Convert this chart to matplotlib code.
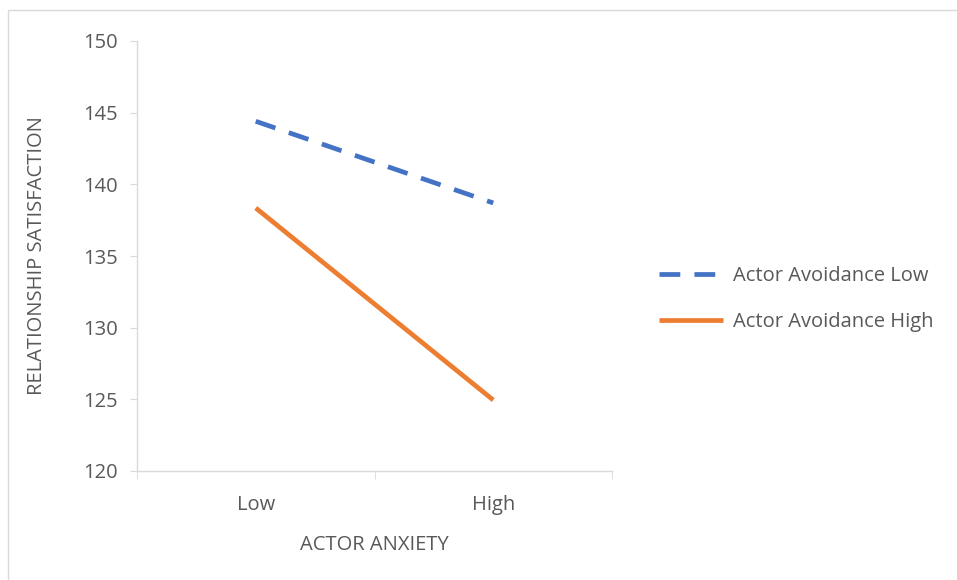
import matplotlib.pyplot as plt
from matplotlib.patches import Rectangle

# simple slopes: relationship satisfaction by actor anxiety
anxiety = ["Low", "High"]
avoid_low = [144.4, 138.7]
avoid_high = [138.35, 124.95]
yticks = [120, 125, 130, 135, 140, 145, 150]

grey = "#595959"
axis_col = "#d9d9d9"
fs = 14.5
plt.rcParams["font.family"] = ["Open Sans", "DejaVu Sans"]

fig = plt.figure(figsize=(9.57, 5.80), dpi=100)
fig.patches.append(Rectangle((8 / 957, -0.1), 1.2, 1 - 10 / 580 + 0.1,
                             transform=fig.transFigure, fill=False,
                             edgecolor=axis_col, linewidth=1))
ax = fig.add_axes([137 / 957, 109 / 580, 475 / 957, 430 / 580])

x = list(range(len(anxiety)))
ax.plot(x, avoid_low, color="#4472c4", linewidth=3.4,
        linestyle=(0, (4.4, 3.0)), dash_capstyle="butt",
        label="Actor Avoidance Low")
ax.plot(x, avoid_high, color="#ed7d31", linewidth=3.4,
        solid_capstyle="butt", label="Actor Avoidance High")

ax.set_xlim(-0.5, 1.5)
ax.set_ylim(120, 150)
ax.set_yticks(yticks)
ax.set_xticks(x)
ax.set_xticklabels(anxiety)
ax.set_xticks([-0.5, 0.5, 1.5], minor=True)

for s in ["top", "right"]:
    ax.spines[s].set_visible(False)
for s in ["left", "bottom"]:
    ax.spines[s].set_color(axis_col)
    ax.spines[s].set_linewidth(1)

ax.tick_params(axis="y", colors=grey, labelsize=fs, length=5, color=axis_col, pad=9)
ax.tick_params(axis="x", which="major", colors=grey, labelsize=fs, length=0, pad=17)
ax.tick_params(axis="x", which="minor", length=6, color=axis_col)
for lab in ax.get_yticklabels():
    lab.set_color(grey)

ax.set_xlabel("ACTOR ANXIETY", color=grey, fontsize=fs, labelpad=15)
ax.set_ylabel("RELATIONSHIP SATISFACTION", color=grey, fontsize=fs, labelpad=26)

leg = ax.legend(loc="center left", bbox_to_anchor=(1.06, 0.40), frameon=False,
                fontsize=fs, handlelength=3.2, handletextpad=0.5,
                labelspacing=1.25, labelcolor=grey)

fig.savefig("out.png", dpi=100)
